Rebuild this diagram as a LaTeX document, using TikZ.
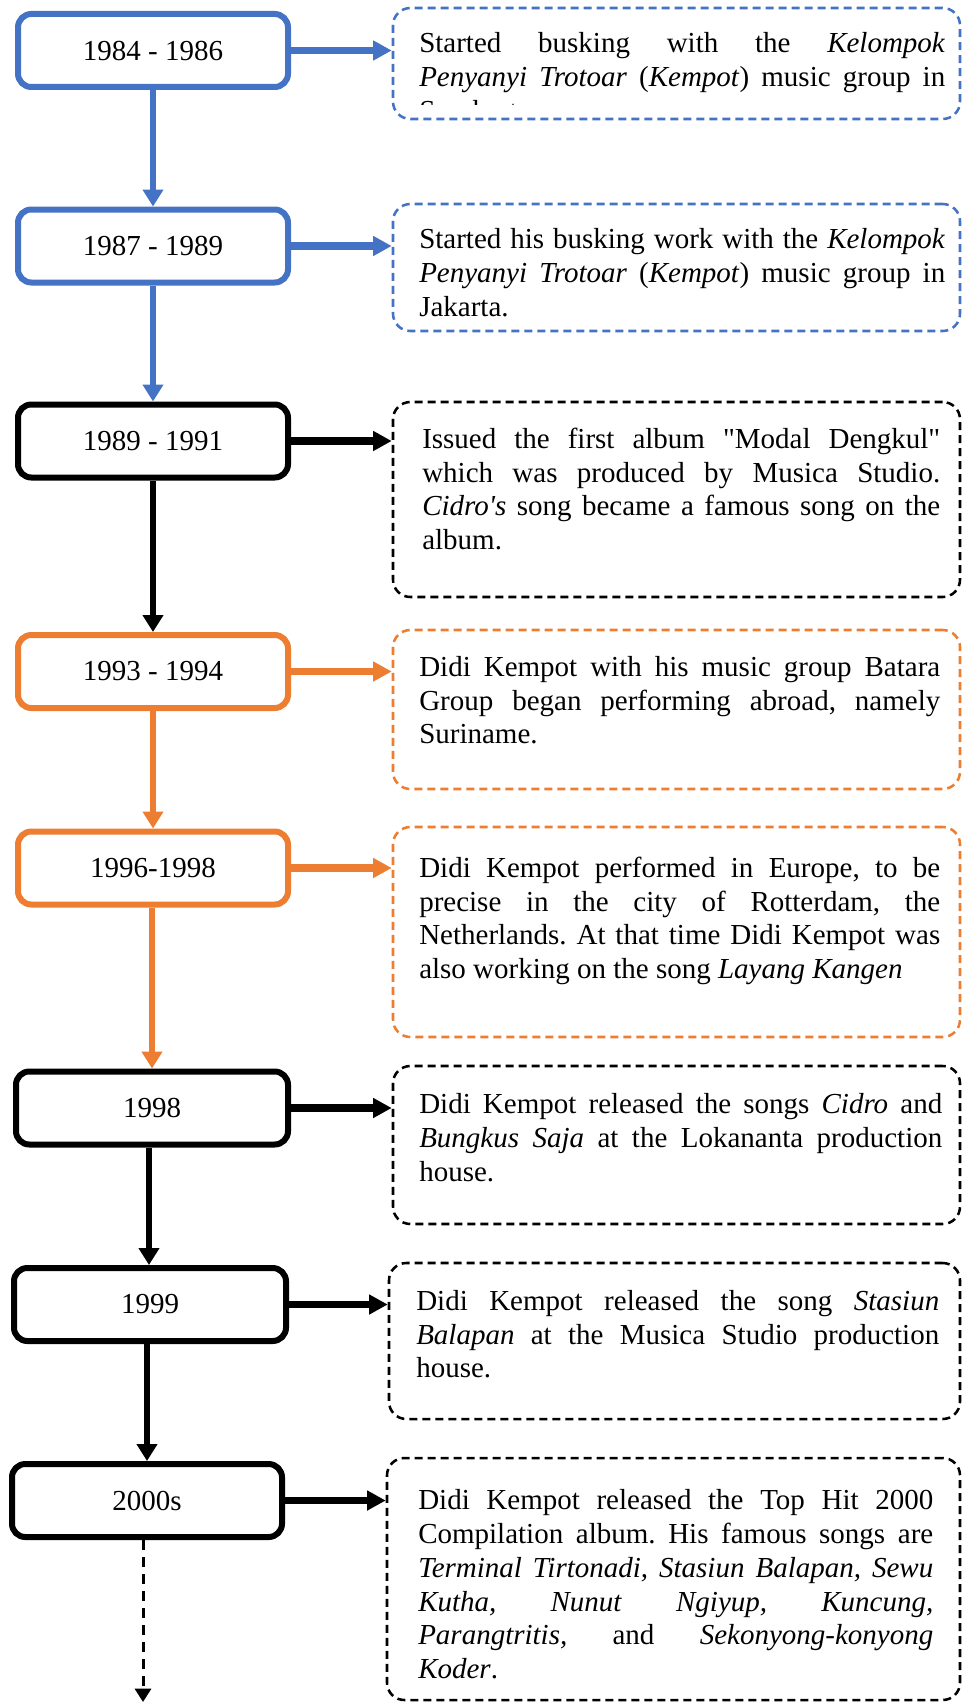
\documentclass[tikz,border=0pt]{standalone}
\usepackage{fontspec}
\setmainfont{Liberation Serif}
\usetikzlibrary{arrows.meta,fit}
\definecolor{oblue}{HTML}{4472C4}
\definecolor{oorange}{HTML}{ED7D31}
\newcommand{\txtfont}{\fontsize{21.75pt}{25.3pt}\selectfont\frenchspacing\tolerance=10000\hyphenpenalty=10000\exhyphenpenalty=10000\hbadness=10000}
\begin{document}
\begin{tikzpicture}[x=0.75pt,y=-0.75pt,
  yearbox/.style={draw, line width=4.5pt, rounded corners=10pt, inner sep=0pt, minimum width=202.5pt, minimum height=54.75pt, font=\txtfont},
  descbox/.style={draw, line width=1.9pt, dash pattern=on 6pt off 3.75pt, rounded corners=13pt, inner sep=0pt},
  desctext/.style={anchor=north west, inner sep=0pt, align=justify, font=\txtfont},
  vconn/.style={line width=4.2pt, -{Triangle[length=12.75pt,width=15pt]}},
  hconn/.style={line width=5.6pt, -{Triangle[length=14pt,width=14.25pt]}},
  dconn/.style={line width=2.25pt, dash pattern=on 7.5pt off 5.25pt, -{Triangle[length=10pt,width=12pt]}}
]
\useasboundingbox (0,0) rectangle (962,1702);

% year boxes
\node[yearbox, draw=oblue] (b1) at (153,50.5) {1984 - 1986};
\node[yearbox, draw=oblue] (b2) at (153,246) {1987 - 1989};
\node[yearbox, draw=black] (b3) at (153,441) {1989 - 1991};
\node[yearbox, draw=oorange] (b4) at (153,671.5) {1993 - 1994};
\node[yearbox, draw=oorange] (b5) at (153,868) {1996-1998};
\node[yearbox, draw=black, minimum width=204pt] (b6) at (152,1108) {1998};
\node[yearbox, draw=black, minimum width=204pt] (b7) at (150,1304.5) {1999};
\node[yearbox, draw=black] (b8) at (147,1500.5) {2000s};

% description boxes
\node[descbox, draw=oblue, fit={(393,8) (960,119)}] (r1) {};
\node[descbox, draw=oblue, fit={(393,204) (960,331)}] (r2) {};
\node[descbox, draw=black, fit={(393,402) (960,597)}] (r3) {};
\node[descbox, draw=oorange, fit={(393,630) (960,789)}] (r4) {};
\node[descbox, draw=oorange, fit={(393,827) (960,1037)}] (r5) {};
\node[descbox, draw=black, fit={(393,1066) (960,1224)}] (r6) {};
\node[descbox, draw=black, fit={(389,1263) (960,1419)}] (r7) {};
\node[descbox, draw=black, fit={(387,1458) (960,1700)}] (r8) {};

% texts
\begin{scope}
\clip (395,0) rectangle (958,104);
\node[desctext, text width=394.5pt] (t1) at (419,29) {\strut Started busking with the \textit{Kelompok}\linebreak \textit{Penyanyi Trotoar} (\textit{Kempot}) music group in\linebreak Surakarta.};
\end{scope}
\node[desctext, text width=394.5pt] (t2) at (419,225) {\strut Started his busking work with the \textit{Kelompok}\linebreak \textit{Penyanyi Trotoar} (\textit{Kempot}) music group in\linebreak Jakarta.};
\node[desctext, text width=388.5pt] (t3) at (422,424.5) {\strut Issued the first album \textquotedbl Modal Dengkul\textquotedbl\linebreak which was produced by Musica Studio.\linebreak \textit{Cidro\textquotesingle s} song became a famous song on the\linebreak album.};
\node[desctext, text width=390.75pt] (t4) at (419,652.5) {\strut Didi Kempot with his music group Batara\linebreak Group began performing abroad, namely\linebreak Suriname.};
\node[desctext, text width=390.75pt] (t5) at (419,853.5) {\strut Didi Kempot performed in Europe, to be\linebreak precise in the city of Rotterdam, the\linebreak Netherlands. At that time Didi Kempot was\linebreak also working on the song \textit{Layang Kangen}};
\node[desctext, text width=392.25pt] (t6) at (419,1090) {\strut Didi Kempot released the songs \textit{Cidro} and\linebreak \textit{Bungkus Saja} at the Lokananta production\linebreak house.};
\node[desctext, text width=392.25pt] (t7) at (416,1286.5) {\strut Didi Kempot released the song \textit{Stasiun}\linebreak \textit{Balapan} at the Musica Studio production\linebreak house.};
\node[desctext, text width=386.25pt] (t8) at (418,1486) {\strut Didi Kempot released the Top Hit 2000\linebreak Compilation album. His famous songs are\linebreak \textit{Terminal Tirtonadi, Stasiun Balapan, Sewu}\linebreak \textit{Kutha,} \textit{Nunut} \textit{Ngiyup,} \textit{Kuncung,}\linebreak \textit{Parangtritis,} and \textit{Sekonyong-konyong}\linebreak \textit{Koder}.};

% vertical connectors
\draw[vconn, oblue] (b1.south) -- (b1.south |- b2.north);
\draw[vconn, oblue] (b2.south) -- (b2.south |- b3.north);
\draw[vconn, black] (b3.south) -- (b3.south |- b4.north);
\draw[vconn, oorange] (b4.south) -- (b4.south |- b5.north);
\draw[vconn, oorange] ([xshift=-0.75pt]b5.south) -- ([xshift=-0.75pt]b5.south |- b6.north);
\draw[vconn, black] ([xshift=-2.25pt]b6.south) -- ([xshift=-2.25pt]b6.south |- b7.north);
\draw[vconn, black] ([xshift=-2.25pt]b7.south) -- ([xshift=-2.25pt]b7.south |- b8.north);
\coordinate (endpt) at (143,1702);
\draw[dconn, black] (b8.south -| endpt) -- (endpt);

% horizontal connectors
\draw[hconn, oblue] (b1.east) -- (b1.east -| r1.west);
\draw[hconn, oblue] (b2.east) -- (b2.east -| r2.west);
\draw[hconn, black] (b3.east) -- (b3.east -| r3.west);
\draw[hconn, oorange] (b4.east) -- (b4.east -| r4.west);
\draw[hconn, oorange] (b5.east) -- (b5.east -| r5.west);
\draw[hconn, black] (b6.east) -- (b6.east -| r6.west);
\draw[hconn, black] (b7.east) -- (b7.east -| r7.west);
\draw[hconn, black] (b8.east) -- (b8.east -| r8.west);
\end{tikzpicture}
\end{document}
